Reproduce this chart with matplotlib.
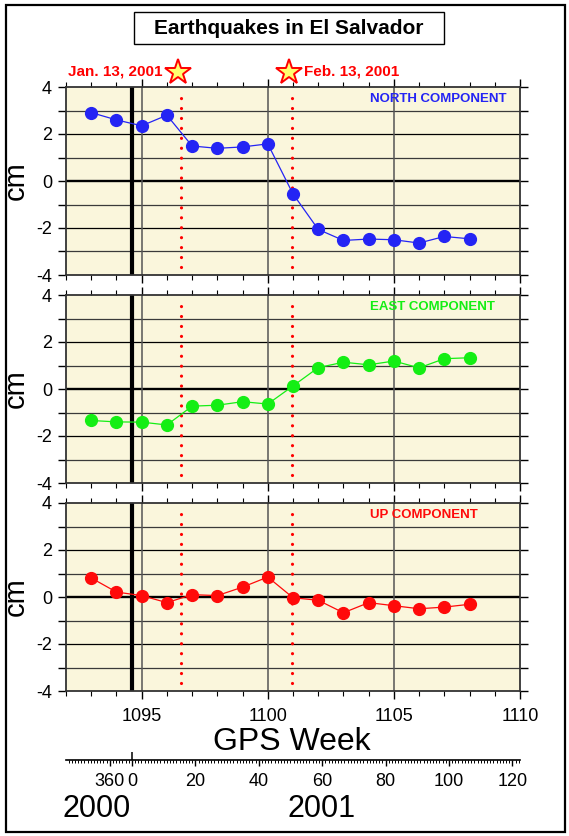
import matplotlib
matplotlib.use("Agg")
import matplotlib.pyplot as plt
from matplotlib.patches import Rectangle
from matplotlib.ticker import FixedLocator, MultipleLocator

plt.rcParams['font.family'] = ['Liberation Sans', 'DejaVu Sans']
plt.rcParams['axes.unicode_minus'] = False

# GPS weeks of the weekly solutions
weeks = [1093, 1094, 1095, 1096, 1097, 1098, 1099, 1100,
         1101, 1102, 1103, 1104, 1105, 1106, 1107, 1108]
north = [2.91, 2.60, 2.35, 2.80, 1.49, 1.39, 1.45, 1.58,
         -0.55, -2.06, -2.53, -2.47, -2.50, -2.64, -2.36, -2.46]
east = [-1.34, -1.40, -1.41, -1.53, -0.73, -0.69, -0.54, -0.64,
        0.13, 0.91, 1.14, 1.03, 1.19, 0.90, 1.29, 1.33]
up = [0.81, 0.21, 0.06, -0.24, 0.10, 0.06, 0.42, 0.85,
      -0.03, -0.14, -0.67, -0.24, -0.37, -0.50, -0.43, -0.31]

components = ["NORTH COMPONENT", "EAST COMPONENT", "UP COMPONENT"]
colors = ["#2424F4", "#14EE14", "#FF0A0A"]

quake_weeks = [1096.55, 1100.95]
quake_labels = ["Jan. 13, 2001", "Feb. 13, 2001"]
new_year_week = 1094.62

week_ticks = [1095, 1100, 1105, 1110]
day_ticks = [-7, 0, 20, 40, 60, 80, 100, 120]
day_labels = ["360", "0", "20", "40", "60", "80", "100", "120"]
years = ["2000", "2001"]

W, H = 569, 836
BG = "#FAF6DC"


def main():
    fig = plt.figure(figsize=(W / 100, H / 100), dpi=100)

    # outer frame
    fig.patches.append(Rectangle((6 / W, 1 - 832 / H), 559 / W, 827 / H,
                                 fill=False, lw=1.6, ec="black",
                                 transform=fig.transFigure))
    # title box
    fig.patches.append(Rectangle((134 / W, 1 - 44 / H), 310 / W, 32 / H,
                                 fill=False, lw=1.0, ec="black",
                                 transform=fig.transFigure))
    fig.text(289 / W, 1 - 28 / H, "Earthquakes in El Salvador",
             ha="center", va="center", fontsize=15, fontweight="bold")

    tops = [87, 295, 503]
    axes = []
    for i, vals in enumerate([north, east, up]):
        ax = fig.add_axes([66 / W, 1 - (tops[i] + 188) / H, 454 / W, 188 / H])
        ax.set_facecolor(BG)
        ax.set_xlim(1092, 1110)
        ax.set_ylim(-4, 4)

        for y in range(-3, 4):
            ax.axhline(y, color="black" if y % 2 == 0 else "#3a3a3a",
                       lw=1.7 if y == 0 else 0.9, zorder=1)
        for w in week_ticks[:-1]:
            ax.axvline(w, color="#555555", lw=1.1, zorder=1)
        ax.axvline(new_year_week, color="black", lw=3, zorder=2)
        for q in quake_weeks:
            ax.plot([q, q], [-3.65, 3.65], color="red", lw=2.3,
                    linestyle=(0, (0.01, 3.1)), dash_capstyle="round", zorder=3)

        ax.plot(weeks, vals, "-o", color=colors[i], lw=0.9, ms=8.5, zorder=4)
        ax.text(1104.05, 3.5, components[i], color=colors[i], fontsize=9.5,
                fontweight="bold", ha="left", va="center", zorder=5)

        ax.xaxis.set_major_locator(FixedLocator(week_ticks))
        ax.xaxis.set_minor_locator(MultipleLocator(1))
        ax.tick_params(axis="x", which="both", direction="out", top=True, bottom=True)
        ax.tick_params(axis="x", which="major", length=6, width=1.0, labelsize=13, pad=6)
        ax.tick_params(axis="x", which="minor", length=3.5, width=0.8)
        if i < 2:
            ax.tick_params(axis="x", which="both", labelbottom=False)

        ax.yaxis.set_major_locator(FixedLocator([-4, -2, 0, 2, 4]))
        ax.yaxis.set_minor_locator(MultipleLocator(1))
        ax.tick_params(axis="y", which="both", direction="out", left=True,
                       right=True, length=6, width=1.0)
        ax.tick_params(axis="y", which="major", labelsize=13, pad=4)

        ax.set_ylabel("cm", fontsize=21)
        ax.yaxis.set_label_coords(-0.08, 0.5)
        for s in ax.spines.values():
            s.set_color("#333333")
            s.set_linewidth(1.3)
        axes.append(ax)

    # earthquake markers above the top panel
    top = axes[0]
    for q, lab, side in zip(quake_weeks, quake_labels, [-1, 1]):
        top.plot(q - 0.1, 4.64, marker="*", ms=19, mfc="#FFFF70", mec="red",
                 mew=1.4, clip_on=False, zorder=6)
        top.annotate(lab, (q - 0.1, 4.64), xytext=(side * 11, 0),
                     textcoords="offset points", color="red", fontsize=11,
                     fontweight="bold", va="center",
                     ha="right" if side < 0 else "left", annotation_clip=False)

    fig.text(292 / W, 1 - 742 / H, "GPS Week", ha="center", va="center", fontsize=23)

    # day-of-year ruler
    axd = fig.add_axes([66 / W, 1 - 760 / H, 454 / W, 8 / H])
    axd.patch.set_visible(False)
    for s in ["top", "left", "right"]:
        axd.spines[s].set_visible(False)
    axd.spines["bottom"].set_linewidth(1.2)
    axd.set_xlim(-20.8, 122.4)
    axd.set_ylim(0, 1)
    axd.set_yticks([])
    axd.xaxis.set_major_locator(FixedLocator(day_ticks))
    axd.set_xticklabels(day_labels)
    axd.xaxis.set_minor_locator(MultipleLocator(1))
    axd.tick_params(axis="x", which="major", direction="out", length=4.5,
                    width=1.0, labelsize=13, pad=5)
    axd.tick_params(axis="x", which="minor", direction="out", length=2.5, width=0.7)
    axd.axvline(0, color="black", lw=1.1)

    fig.text(97 / W, 1 - 809 / H, years[0], ha="center", va="center", fontsize=22)
    fig.text(322 / W, 1 - 809 / H, years[1], ha="center", va="center", fontsize=22)

    fig.savefig("out.png", dpi=100)


if __name__ == "__main__":
    main()
